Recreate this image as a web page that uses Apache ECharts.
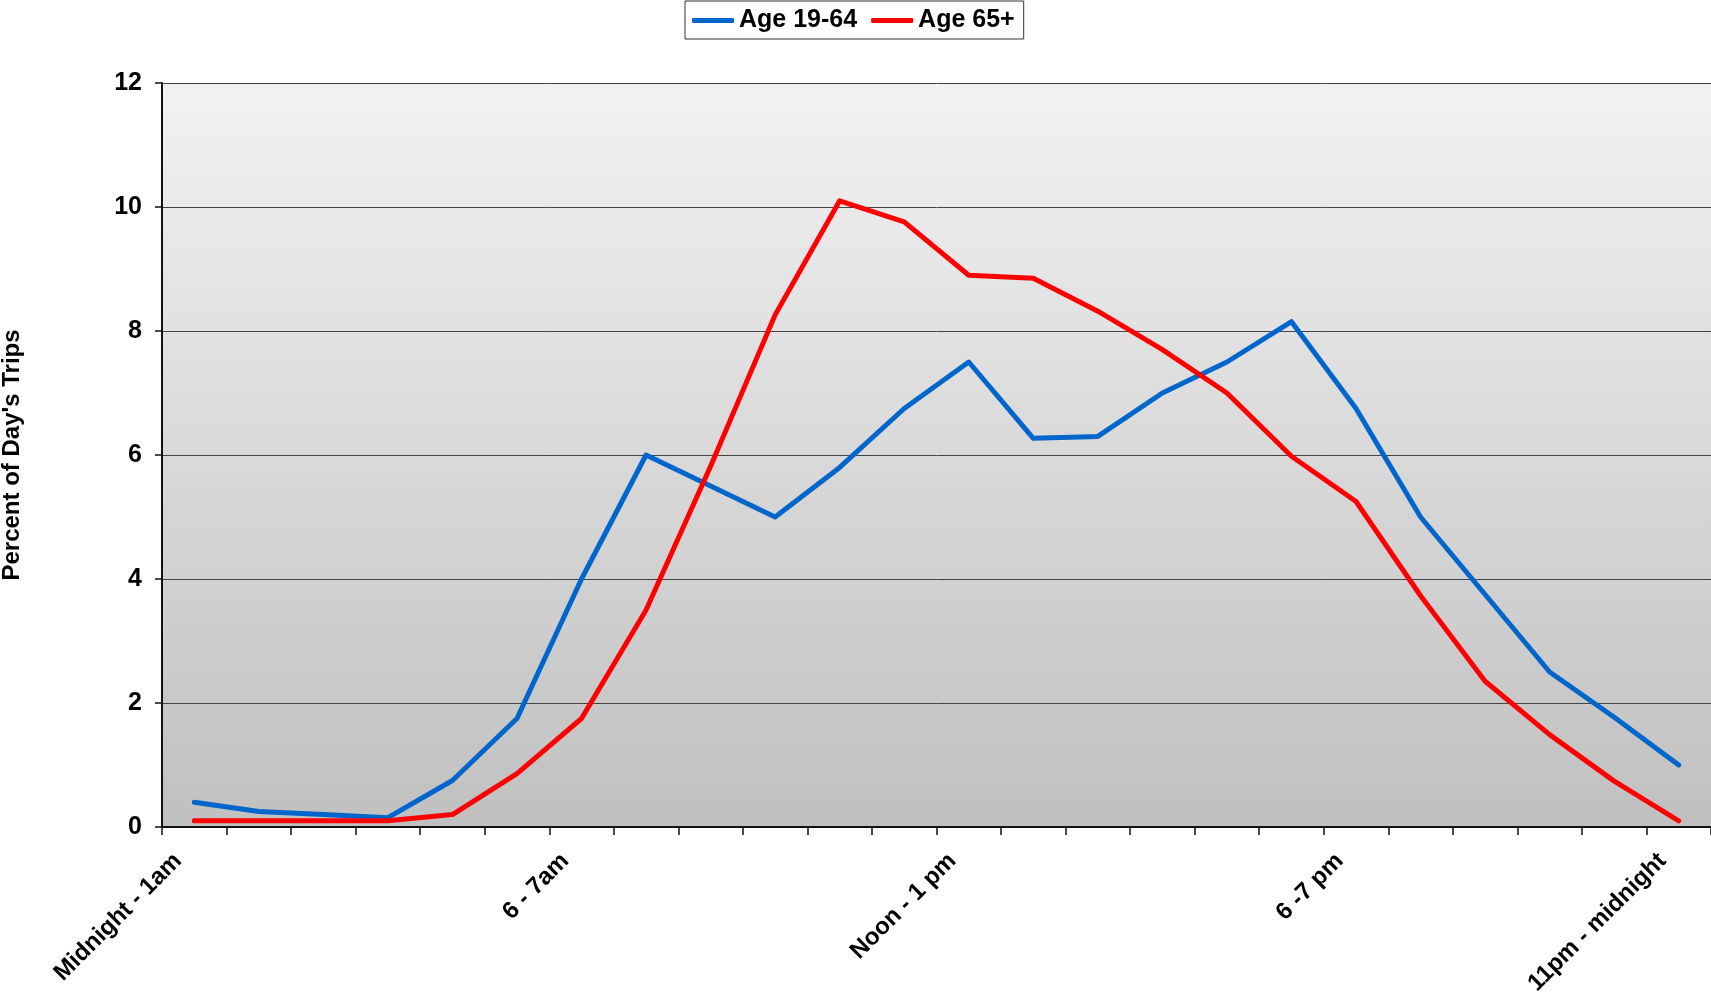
<!DOCTYPE html>
<html>
<head>
<meta charset="utf-8">
<title>Trips by Hour of Day</title>
<script src="https://cdn.jsdelivr.net/npm/echarts@6/dist/echarts.min.js"></script>
<style>
  html, body { margin: 0; padding: 0; background: #ffffff; }
  #chart { width: 1711px; height: 1003px; }
</style>
</head>
<body>
<div id="chart"></div>
<script>
// Hour-of-day buckets (x axis categories)
const hours = [
  'Midnight - 1am', '1 - 2am', '2 - 3am', '3 - 4am', '4 - 5am', '5 - 6am',
  '6 - 7am', '7 - 8am', '8 - 9am', '9 - 10am', '10 - 11am', '11am - Noon',
  'Noon - 1 pm', '1 - 2 pm', '2 - 3 pm', '3 - 4 pm', '4 - 5 pm', '5 - 6 pm',
  '6 -7 pm', '7 - 8 pm', '8 - 9 pm', '9 - 10 pm', '10 - 11 pm', '11pm - midnight'
];
// Only these hour buckets get a printed label
const labeledHours = [0, 6, 12, 18, 23];

// Share of the day's trips in each hour (%)
const age19to64 = [
  0.4, 0.25, 0.2, 0.15, 0.75, 1.75,
  4.0, 6.0, 5.5, 5.0, 5.8, 6.75,
  7.5, 6.27, 6.3, 7.0, 7.5, 8.15,
  6.75, 5.0, 3.75, 2.5, 1.77, 1.0
];
const age65plus = [
  0.1, 0.1, 0.1, 0.1, 0.2, 0.86,
  1.75, 3.5, 5.82, 8.26, 10.1, 9.76,
  8.9, 8.85, 8.32, 7.7, 7.0, 5.98,
  5.25, 3.73, 2.35, 1.49, 0.74, 0.1
];

// Y axis scale
const yMin = 0;
const yMax = 12;
const yStep = 2;

const FONT = '"Liberation Sans", Arial, Helvetica, sans-serif';

const chart = echarts.init(document.getElementById('chart'), null, { renderer: 'canvas' });

chart.setOption({
  animation: false,
  backgroundColor: '#ffffff',
  textStyle: { fontFamily: FONT },
  grid: {
    left: 162,
    right: 0,
    top: 83,
    bottom: 176,
    show: true,
    borderWidth: 0,
    backgroundColor: {
      type: 'linear', x: 0, y: 0, x2: 0, y2: 1,
      colorStops: [
        { offset: 0, color: '#f2f2f2' },
        { offset: 1, color: '#c0c0c0' }
      ]
    }
  },
  legend: {
    left: 685,
    top: 1,
    padding: [7, 9, 6, 7],
    borderColor: '#333333',
    borderWidth: 1,
    backgroundColor: '#ffffff',
    itemWidth: 42,
    itemHeight: 5,
    itemGap: 14,
    icon: 'roundRect',
    textStyle: { fontFamily: FONT, fontSize: 25, fontWeight: 'bold', color: '#000000' },
    data: ['Age 19-64', 'Age 65+']
  },
  graphic: [{
    type: 'text',
    x: 12,
    y: 455,
    rotation: Math.PI / 2,
    style: {
      text: "Percent of Day's Trips",
      font: 'bold 24px ' + FONT,
      fill: '#000000',
      align: 'center',
      verticalAlign: 'middle'
    }
  }],
  xAxis: {
    type: 'category',
    data: hours,
    boundaryGap: true,
    axisLine: { show: true, lineStyle: { color: '#111111', width: 2 } },
    axisTick: { show: true, interval: 0, length: 8, lineStyle: { color: '#111111', width: 1.5 } },
    axisLabel: {
      interval: (idx) => labeledHours.includes(idx),
      rotate: 45,
      margin: 14,
      padding: [0, 23, 0, 0],
      fontFamily: FONT,
      fontSize: 24,
      fontWeight: 'bold',
      color: '#000000'
    },
    splitLine: { show: false }
  },
  yAxis: {
    type: 'value',
    min: yMin,
    max: yMax,
    interval: yStep,
    axisLine: { show: true, lineStyle: { color: '#111111', width: 2 } },
    axisTick: { show: true, length: 7, lineStyle: { color: '#111111', width: 1.5 } },
    axisLabel: {
      margin: 20,
      fontFamily: FONT,
      fontSize: 25,
      fontWeight: 'bold',
      color: '#000000'
    },
    splitLine: { show: true, lineStyle: { color: '#444444', width: 1 } }
  },
  series: [
    {
      name: 'Age 19-64',
      type: 'line',
      data: age19to64,
      showSymbol: false,
      symbol: 'none',
      color: '#0066cc',
      lineStyle: { color: '#0066cc', width: 5, cap: 'round', join: 'round' }
    },
    {
      name: 'Age 65+',
      type: 'line',
      data: age65plus,
      showSymbol: false,
      symbol: 'none',
      color: '#ff0000',
      lineStyle: { color: '#ff0000', width: 5, cap: 'round', join: 'round' }
    }
  ]
});
</script>
</body>
</html>
